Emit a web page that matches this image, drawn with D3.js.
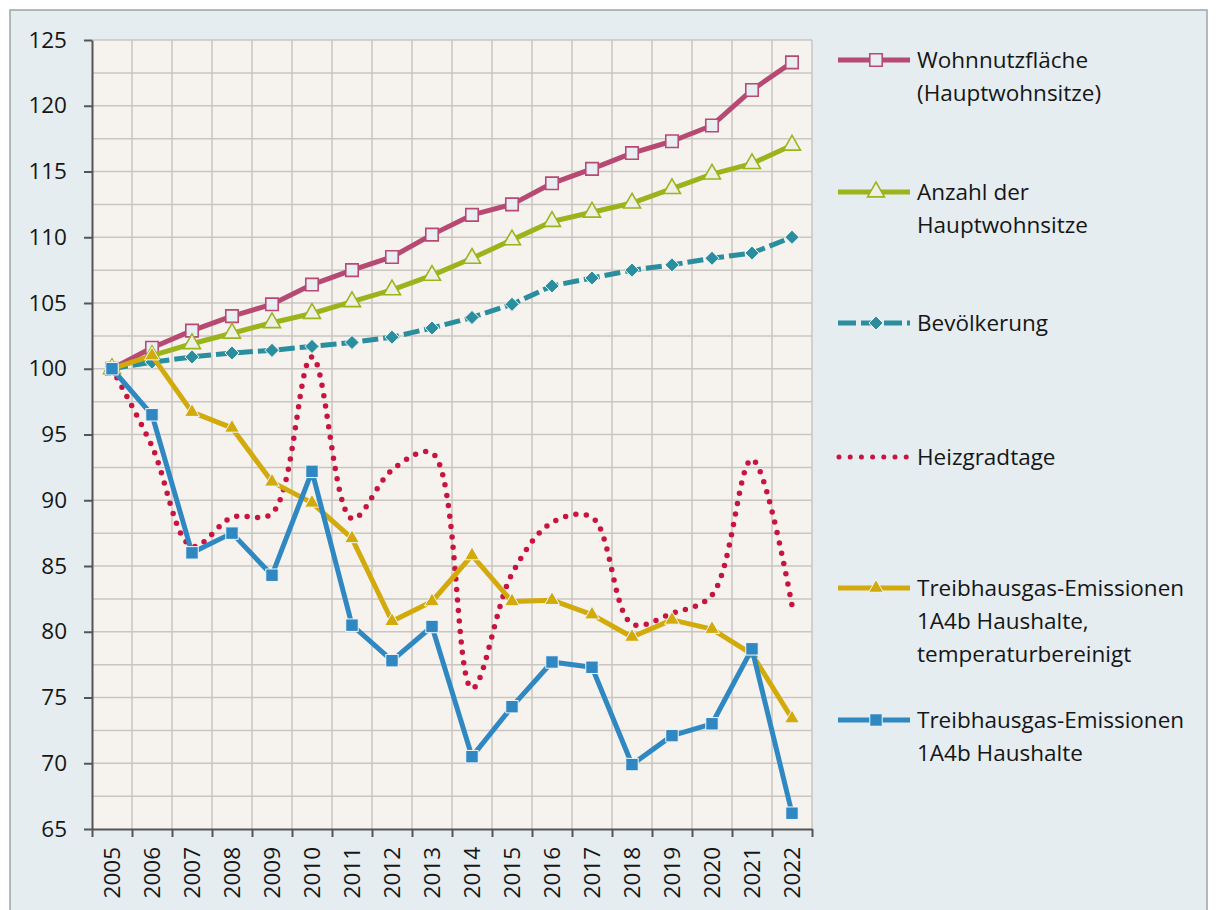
<!DOCTYPE html>
<html>
<head>
<meta charset="utf-8">
<script src="https://cdn.jsdelivr.net/npm/d3@7"></script>
<style>
body { margin: 0; background: #fff; }
text { font-family: "Open Sans", sans-serif; fill: #161616; }
</style>
</head>
<body>
<svg id="chart" width="1217" height="910"></svg>
<script>
const years = ["2005", "2006", "2007", "2008", "2009", "2010", "2011", "2012", "2013",
               "2014", "2015", "2016", "2017", "2018", "2019", "2020", "2021", "2022"];

const wohnflaeche   = [100, 101.6, 102.9, 104.0, 104.9, 106.4, 107.5, 108.5, 110.2, 111.7, 112.5, 114.1, 115.2, 116.4, 117.3, 118.5, 121.2, 123.3];
const hauptwohnsitze = [100, 101.0, 101.9, 102.7, 103.5, 104.2, 105.1, 106.0, 107.1, 108.4, 109.8, 111.2, 111.9, 112.6, 113.7, 114.8, 115.6, 117.0];
const bevoelkerung  = [100, 100.5, 100.9, 101.2, 101.4, 101.7, 102.0, 102.4, 103.1, 103.9, 104.9, 106.3, 106.9, 107.5, 107.9, 108.4, 108.8, 110.0];
const heizgradtage  = [100, 94.1, 86.5, 88.7, 89.0, 100.9, 88.6, 92.3, 93.6, 75.7, 84.4, 88.3, 88.7, 80.6, 81.4, 82.8, 93.1, 82.0];
const thgBereinigt  = [100, 101.0, 96.7, 95.5, 91.4, 89.8, 87.1, 80.8, 82.3, 85.8, 82.3, 82.4, 81.3, 79.6, 80.9, 80.2, 78.3, 73.4];
const thgHaushalte  = [100, 96.5, 86.0, 87.5, 84.3, 92.2, 80.5, 77.8, 80.4, 70.5, 74.3, 77.7, 77.3, 69.9, 72.1, 73.0, 78.7, 66.2];

const yTicks = d3.range(65, 126, 5);

// series styling, in legend order
const series = [
  {values: wohnflaeche, label: ["Wohnnutzfläche", "(Hauptwohnsitze)"], color: "#b64a73",
   marker: "square", size: 155, fill: "#e9eef3", dash: null},
  {values: hauptwohnsitze, label: ["Anzahl der", "Hauptwohnsitze"], color: "#9cb41b",
   marker: "triangle", size: 125, fill: "#eef0e6", dash: null},
  {values: bevoelkerung, label: ["Bevölkerung"], color: "#2a8e9e",
   marker: "diamond", size: 100, fill: "#2a8e9e", dash: "16 5"},
  {values: heizgradtage, label: ["Heizgradtage"], color: "#c8143f",
   marker: null, dash: "0 10.5", smooth: true},
  {values: thgBereinigt, label: ["Treibhausgas-Emissionen", "1A4b Haushalte,", "temperaturbereinigt"], color: "#d2aa0c",
   marker: "triangle", size: 95, fill: "#d2aa0c", dash: null},
  {values: thgHaushalte, label: ["Treibhausgas-Emissionen", "1A4b Haushalte"], color: "#2f88c2",
   marker: "square", size: 155, fill: "#2f88c2", dash: null}
];
const legendY = [60, 192, 323, 457, 588, 720];

const svg = d3.select("#chart");
const plotL = 92, plotR = 812, plotT = 40, plotB = 829;

const x = d3.scaleBand().domain(years).range([plotL, plotR]);
const xEdge = d3.scaleLinear().domain([0, years.length]).range([plotL, plotR]);
const y = d3.scaleLinear().domain([65, 125]).range([plotB, plotT]);
const cx = d => x(d) + x.bandwidth() / 2;

// frame + plot background
svg.append("rect").attr("x", 10).attr("y", 10).attr("width", 1197).attr("height", 920)
  .attr("fill", "#e5edf1").attr("stroke", "#9ea3a6").attr("stroke-width", 1.5);
svg.append("rect").attr("x", plotL).attr("y", plotT).attr("width", plotR - plotL).attr("height", plotB - plotT)
  .attr("fill", "#f6f3ef");

// grid
const grid = svg.append("g").attr("stroke", "#c9c5c1").attr("stroke-width", 1.5);
grid.selectAll(".h").data(d3.range(67.5, 125.01, 2.5)).join("line")
  .attr("x1", plotL).attr("x2", plotR).attr("y1", d => y(d)).attr("y2", d => y(d));
grid.selectAll(".v").data(d3.range(1, years.length + 1)).join("line")
  .attr("x1", d => xEdge(d)).attr("x2", d => xEdge(d)).attr("y1", plotT).attr("y2", plotB);

// axes
const yAxis = svg.append("g").attr("transform", `translate(${plotL},0)`)
  .call(d3.axisLeft(y).tickValues(yTicks).tickSize(8).tickPadding(17).tickSizeOuter(0));
const xTicks = svg.append("g").attr("transform", `translate(0,${plotB})`)
  .call(d3.axisBottom(xEdge).tickValues(d3.range(0, years.length + 1)).tickSize(8).tickFormat("").tickSizeOuter(0));
const xAxis = svg.append("g").attr("transform", `translate(0,${plotB})`)
  .call(d3.axisBottom(x).tickSize(0).tickSizeOuter(0));
xAxis.select(".domain").remove();
xAxis.selectAll("text")
  .attr("transform", "translate(0,18) rotate(-90)")
  .attr("x", 0).attr("y", 0).attr("dy", "0.36em")
  .attr("text-anchor", "end");
[yAxis, xTicks, xAxis].forEach(g => {
  g.selectAll("path, line").attr("stroke", "#555").attr("stroke-width", 2);
  g.selectAll("text").style("font-size", "22.5px").attr("fill", "#161616");
});

// marker shapes
function markerPath(type, size) {
  if (type === "square") return d3.symbol(d3.symbolSquare, size)();
  if (type === "triangle") return d3.symbol(d3.symbolTriangle, size)();
  if (type === "diamond") {
    const h = Math.sqrt(size * 2) / 2;
    return `M0,${-h}L${h},0L0,${h}L${-h},0Z`;
  }
  return null;
}
function drawMarker(g, s, px, py) {
  const hollow = s.fill !== s.color;
  g.append("path").attr("d", markerPath(s.marker, s.size))
    .attr("transform", `translate(${px},${py})`)
    .attr("fill", s.fill)
    .attr("stroke", hollow ? s.color : "#f4f7f9")
    .attr("stroke-width", hollow ? 1.6 : 1);
}

// lines
const plot = svg.append("g");
series.forEach(s => {
  const pts = years.map((yr, i) => ({yr, v: s.values[i]}));
  const line = d3.line().x(d => cx(d.yr)).y(d => y(d.v))
    .curve(s.smooth ? d3.curveCatmullRom.alpha(0.5) : d3.curveLinear);
  const g = plot.append("g");
  g.append("path").datum(pts).attr("d", line)
    .attr("fill", "none").attr("stroke", s.color)
    .attr("stroke-width", s.smooth ? 5.5 : 5)
    .attr("stroke-linecap", s.smooth ? "round" : "butt")
    .attr("stroke-linejoin", "round")
    .attr("stroke-dasharray", s.dash);
  if (s.marker) pts.forEach(d => drawMarker(g, s, cx(d.yr), y(d.v)));
});

// legend
const legend = svg.append("g");
series.forEach((s, i) => {
  const ly = legendY[i];
  const g = legend.append("g");
  if (s.smooth) {
    g.append("line").attr("x1", 839).attr("x2", 909).attr("y1", ly).attr("y2", ly)
      .attr("stroke", s.color).attr("stroke-width", 5).attr("stroke-linecap", "round")
      .attr("stroke-dasharray", "0 11.2");
  } else {
    g.append("line").attr("x1", 838).attr("x2", 910).attr("y1", ly).attr("y2", ly)
      .attr("stroke", s.color).attr("stroke-width", 5).attr("stroke-dasharray", s.dash ? "18 5" : null);
    drawMarker(g, s, 876, ly);
  }
  s.label.forEach((t, k) => {
    g.append("text").attr("x", 917).attr("y", ly + k * 33).attr("dy", "0.36em")
      .style("font-size", "22.5px").text(t);
  });
});
</script>
</body>
</html>
